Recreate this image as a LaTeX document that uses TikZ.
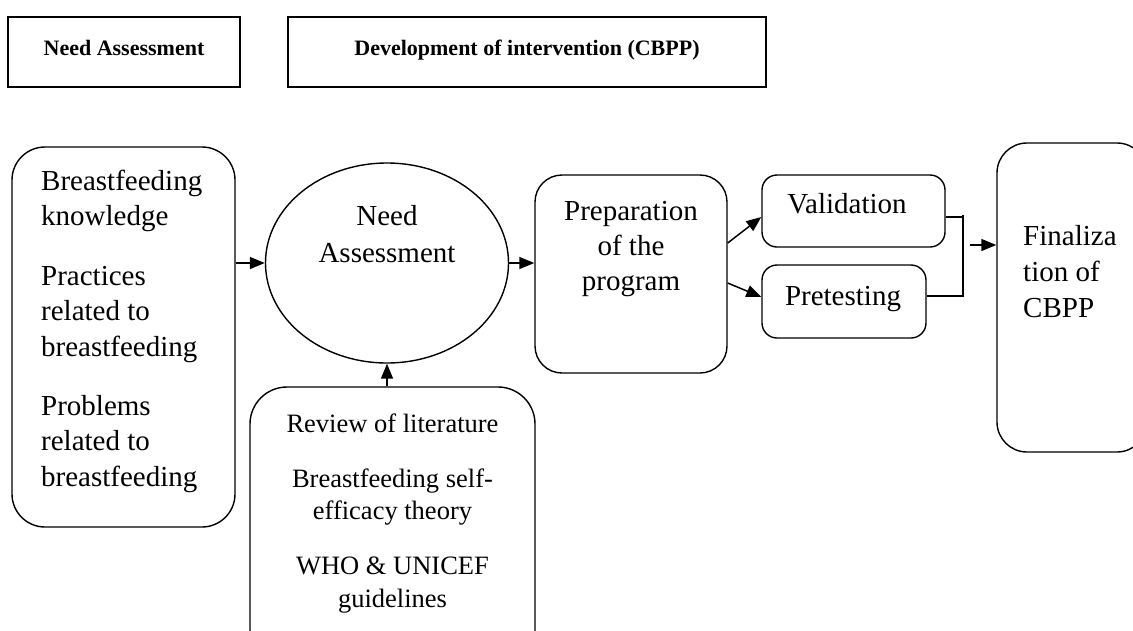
\documentclass[tikz,border=0pt]{standalone}
\usepackage{fontspec}
\setmainfont{Liberation Serif}
\usetikzlibrary{shapes.geometric,arrows.meta,calc}
\newcommand{\tpa}{\rule{0pt}{22pt}}
\newcommand{\tpb}{\rule{0pt}{20pt}}
\begin{document}
\begin{tikzpicture}[x=1pt,y=-1pt,
  box/.style={draw,line width=1.4pt,inner sep=0pt},
  hdr/.style={draw,line width=1.2pt,inner sep=0pt},
  txt/.style={inner sep=0pt,font=\fontsize{29}{35.5}\selectfont},
  htxt/.style={inner sep=0pt,anchor=base,font=\fontsize{22}{26}\selectfont\bfseries},
  arr/.style={line width=1.5pt,-{Triangle[length=15pt,width=12pt]}},
  ln/.style={line width=1.3pt}]
\useasboundingbox (0,0) rectangle (1133,630);
% header boxes
\node[hdr,minimum width=232pt,minimum height=70pt] (h1) at (124,52) {};
\node[hdr,minimum width=478pt,minimum height=70pt] (h2) at (527,52) {};
\node[htxt] (h1t) at (124,55) {Need Assessment};
\node[htxt] (h2t) at (527,55) {Development of intervention (CBPP)};
% main shapes
\node[box,rounded corners=33pt,minimum width=223pt,minimum height=380pt] (lb) at (123.5,337) {};
\node[box,ellipse,minimum width=243pt,minimum height=200pt] (ell) at (387,263) {};
\node[box,rounded corners=27pt,minimum width=192pt,minimum height=198pt] (prep) at (631,274) {};
\node[box,rounded corners=15pt,minimum width=183pt,minimum height=72pt] (val) at (853.5,211) {};
\node[box,rounded corners=15pt,minimum width=164pt,minimum height=73pt] (pre) at (844,301.5) {};
\node[box,rounded corners=30pt,minimum width=150pt,minimum height=309pt] (fin) at (1072,297.5) {};
\node[box,rounded corners=37pt,minimum width=285pt,minimum height=280pt] (bot) at (392.5,527) {};
% texts
\node[txt,anchor=north west,align=left] (lbt) at (41,168) {\tpa Breastfeeding\\knowledge\\[24pt]Practices\\related to\\breastfeeding\\[23.5pt]Problems\\related to\\breastfeeding};
\node[txt,font=\fontsize{29}{37}\selectfont,anchor=north,align=center] (ellt) at (387,203) {\tpa Need\\Assessment};
\node[txt,font=\fontsize{29}{35}\selectfont,anchor=north,align=center] (prept) at (631,198) {\tpa Preparation\\of the\\program};
\node[txt,anchor=base] (valt) at (847,213) {Validation};
\node[txt,anchor=base] (pret) at (843,305) {Pretesting};
\node[txt,font=\fontsize{29}{36}\selectfont,anchor=north west,align=left] (fint) at (1023,223) {\tpa Finaliza\\tion of\\CBPP};
\node[txt,font=\fontsize{26.5}{32.5}\selectfont,anchor=north,align=center] (bott) at (392.5,412) {\tpb Review of literature\\[22.5pt]Breastfeeding self-\\efficacy theory\\[22.5pt]WHO \& UNICEF\\guidelines};
% connectors
\draw[arr] (lb.east |- ell.center) -- (ell.west);
\draw[arr] (ell.east) -- (ell.east -| prep.west);
\draw[arr] (ell.south |- bot.north) -- (ell.south);
\coordinate (p1) at ([yshift=31pt]prep.east);
\coordinate (p2) at ([yshift=-9pt]prep.east);
\coordinate (v1) at ([yshift=-6pt]val.west);
\coordinate (r1) at ([yshift=4.5pt]pre.west);
\draw[arr] (p1) -- (v1);
\draw[arr] (p2) -- (r1);
\coordinate (bt) at (963,215);
\coordinate (bb) at (963,297);
\coordinate (ve) at ([yshift=-6pt]val.east);
\coordinate (pe) at ([yshift=5.5pt]pre.east);
\draw[ln] (ve) -- (ve -| bt);
\draw[ln] (pe) -- (pe -| bb);
\draw[ln] (bt) -- (bb);
\coordinate (fo) at (970,245);
\draw[arr] (fo) -- (fo -| fin.west);
\end{tikzpicture}
\end{document}
